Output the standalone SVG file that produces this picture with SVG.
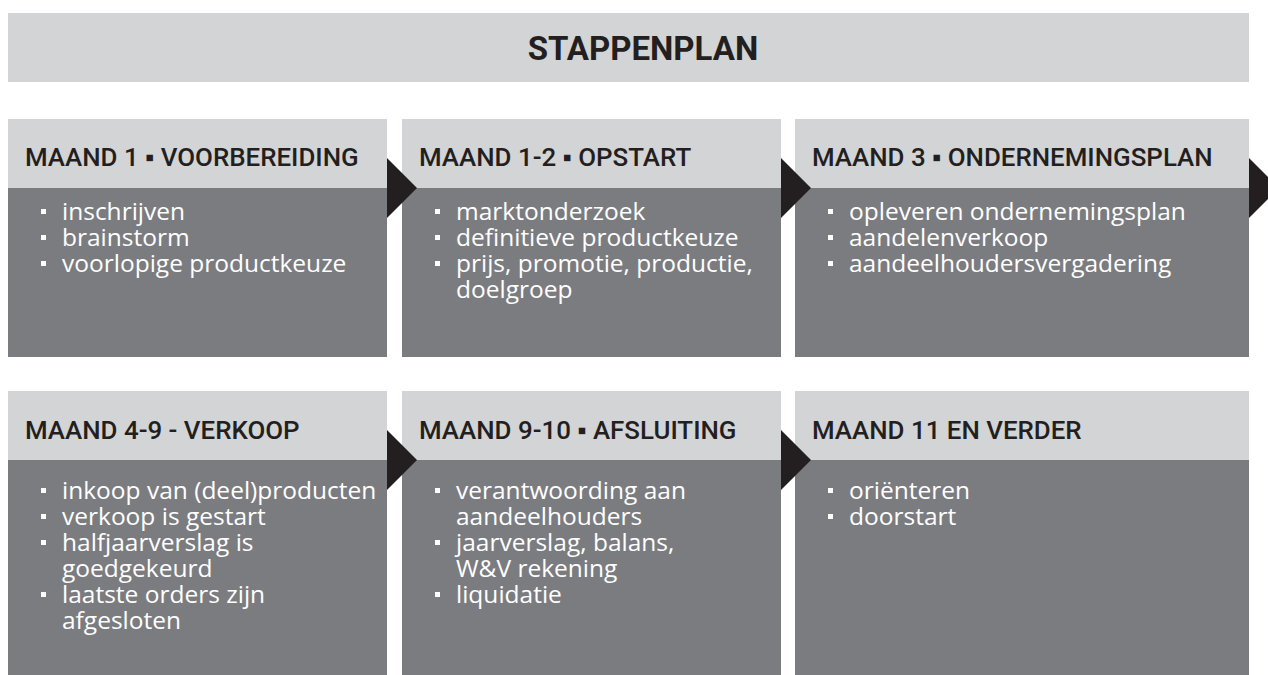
<svg xmlns="http://www.w3.org/2000/svg" width="1268" height="675" viewBox="0 0 1268 675">
  <style>
    .bar { fill: #d3d4d6; }
    .head { fill: #d3d4d6; }
    .body { fill: #7b7c80; }
    .arrow { fill: #231f20; }
    .title { font-family: Roboto, "Liberation Sans", sans-serif; font-weight: 700; font-size: 33px; fill: #231f20; }
    .htxt { font-family: Roboto, "Liberation Sans", sans-serif; font-weight: 500; font-size: 25.9px; fill: #231f20; }
    .btxt { font-family: "Open Sans", "Liberation Sans", sans-serif; font-size: 24.5px; fill: #ffffff; }
    .dot { fill: #ffffff; }
  </style>
  <defs>
    <rect id="bullet" class="dot" x="0" y="-5" width="5" height="5"/>
    <polygon id="chevron" class="arrow" points="0,0 30,30 0,60"/>
  </defs>

  <!-- title bar -->
  <g id="title">
    <rect class="bar" x="8" y="13" width="1241" height="69"/>
    <text class="title" x="643" y="60" text-anchor="middle">STAPPENPLAN</text>
  </g>

  <!-- row 1 -->
  <g id="step-1">
    <rect class="head" x="8" y="119" width="379" height="69"/>
    <rect class="body" x="8" y="188" width="379" height="169"/>
    <text class="htxt" x="25" y="166">MAAND 1 ▪ VOORBEREIDING</text>
    <use href="#bullet" x="41" y="214"/>
    <use href="#bullet" x="41" y="240"/>
    <use href="#bullet" x="41" y="266"/>
    <text class="btxt" x="62" y="220">inschrijven</text>
    <text class="btxt" x="62" y="246">brainstorm</text>
    <text class="btxt" x="62" y="272">voorlopige productkeuze</text>
  </g>

  <g id="step-2">
    <rect class="head" x="402" y="119" width="379" height="69"/>
    <rect class="body" x="402" y="188" width="379" height="169"/>
    <text class="htxt" x="419" y="166">MAAND 1-2 ▪ OPSTART</text>
    <use href="#bullet" x="435" y="214"/>
    <use href="#bullet" x="435" y="240"/>
    <use href="#bullet" x="435" y="266"/>
    <text class="btxt" x="456" y="220">marktonderzoek</text>
    <text class="btxt" x="456" y="246">definitieve productkeuze</text>
    <text class="btxt" x="456" y="272">prijs, promotie, productie,</text>
    <text class="btxt" x="456" y="298">doelgroep</text>
  </g>

  <g id="step-3">
    <rect class="head" x="795" y="119" width="454" height="69"/>
    <rect class="body" x="795" y="188" width="454" height="169"/>
    <text class="htxt" x="812" y="166">MAAND 3 ▪ ONDERNEMINGSPLAN</text>
    <use href="#bullet" x="828" y="214"/>
    <use href="#bullet" x="828" y="240"/>
    <use href="#bullet" x="828" y="266"/>
    <text class="btxt" x="849" y="220">opleveren ondernemingsplan</text>
    <text class="btxt" x="849" y="246">aandelenverkoop</text>
    <text class="btxt" x="849" y="272">aandeelhoudersvergadering</text>
  </g>

  <!-- row 2 -->
  <g id="step-4">
    <rect class="head" x="8" y="391" width="379" height="69"/>
    <rect class="body" x="8" y="460" width="379" height="215"/>
    <text class="htxt" x="25" y="439">MAAND 4-9 - VERKOOP</text>
    <use href="#bullet" x="41" y="493"/>
    <use href="#bullet" x="41" y="519"/>
    <use href="#bullet" x="41" y="545"/>
    <use href="#bullet" x="41" y="597"/>
    <text class="btxt" x="62" y="499">inkoop van (deel)producten</text>
    <text class="btxt" x="62" y="525">verkoop is gestart</text>
    <text class="btxt" x="62" y="551">halfjaarverslag is</text>
    <text class="btxt" x="62" y="577">goedgekeurd</text>
    <text class="btxt" x="62" y="603">laatste orders zijn</text>
    <text class="btxt" x="62" y="629">afgesloten</text>
  </g>

  <g id="step-5">
    <rect class="head" x="402" y="391" width="379" height="69"/>
    <rect class="body" x="402" y="460" width="379" height="215"/>
    <text class="htxt" x="419" y="439">MAAND 9-10 ▪ AFSLUITING</text>
    <use href="#bullet" x="435" y="493"/>
    <use href="#bullet" x="435" y="545"/>
    <use href="#bullet" x="435" y="597"/>
    <text class="btxt" x="456" y="499">verantwoording aan</text>
    <text class="btxt" x="456" y="525">aandeelhouders</text>
    <text class="btxt" x="456" y="551">jaarverslag, balans,</text>
    <text class="btxt" x="456" y="577">W&amp;V rekening</text>
    <text class="btxt" x="456" y="603">liquidatie</text>
  </g>

  <g id="step-6">
    <rect class="head" x="795" y="391" width="454" height="69"/>
    <rect class="body" x="795" y="460" width="454" height="215"/>
    <text class="htxt" x="812" y="439">MAAND 11 EN VERDER</text>
    <use href="#bullet" x="828" y="493"/>
    <use href="#bullet" x="828" y="519"/>
    <text class="btxt" x="849" y="499">oriënteren</text>
    <text class="btxt" x="849" y="525">doorstart</text>
  </g>

  <!-- chevrons linking the steps -->
  <g id="connectors">
    <use href="#chevron" x="387" y="158"/>
    <use href="#chevron" x="781" y="158"/>
    <use href="#chevron" x="1249" y="158"/>
    <use href="#chevron" x="387" y="430"/>
    <use href="#chevron" x="781" y="430"/>
  </g>
</svg>
